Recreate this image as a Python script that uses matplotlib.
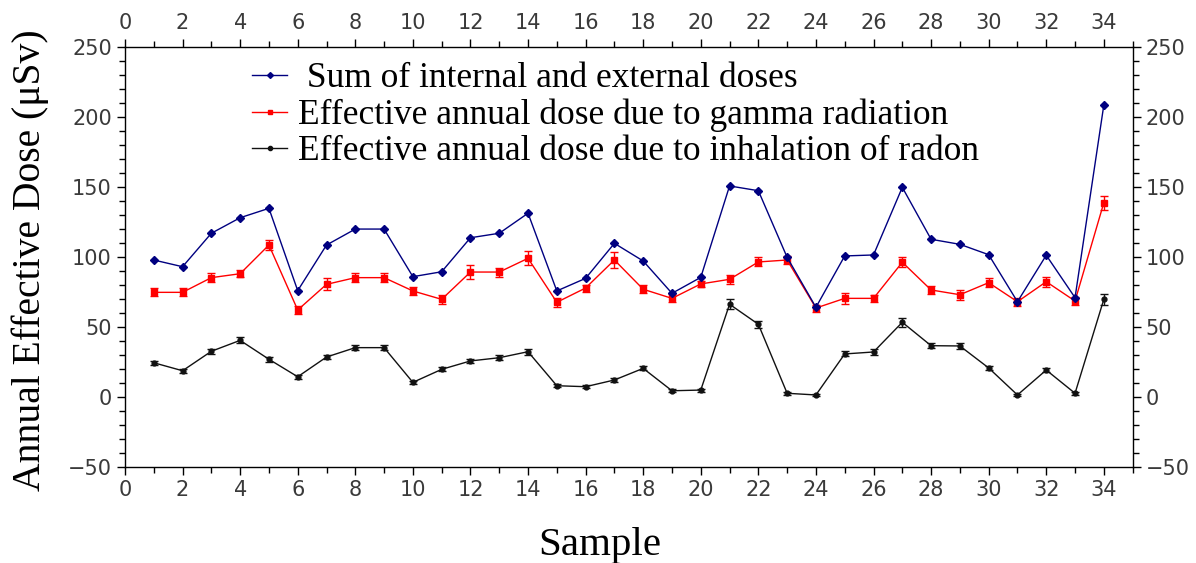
import matplotlib
matplotlib.use("Agg")
import matplotlib.pyplot as plt
from matplotlib.ticker import MultipleLocator
from matplotlib.lines import Line2D

samples = list(range(1, 35))
total_dose = [97.5, 92.7, 116.6, 127.7, 134.4, 75.6, 108.2, 119.6, 119.6, 85.6,
              89.1, 113.4, 116.6, 130.9, 75.4, 84.4, 109.4, 96.8, 73.7, 85.1,
              150.4, 147.0, 99.4, 63.7, 100.4, 101.1, 149.4, 112.3, 108.7, 101.3,
              67.7, 100.9, 70.6, 208.2]
gamma_dose = [74.4, 74.4, 84.9, 87.7, 108.2, 61.8, 80.1, 84.9, 84.9, 75.4,
              69.4, 88.9, 88.9, 98.7, 67.3, 77.5, 97.5, 76.6, 70.1, 80.4,
              83.7, 96.1, 97.5, 63.2, 70.1, 70.1, 95.9, 76.1, 72.7, 81.3,
              67.7, 82.0, 68.2, 138.4]
gamma_err = [2.8, 2.8, 3.4, 2.6, 3.6, 2.9, 4.2, 3.0, 3.0, 2.9,
             3.0, 4.8, 3.2, 4.9, 3.2, 2.5, 6.0, 3.0, 2.8, 2.4,
             3.0, 3.2, 3.2, 2.5, 3.8, 2.5, 3.6, 3.0, 3.6, 3.0,
             3.0, 3.6, 3.0, 4.9]
radon_dose = [24.1, 18.4, 32.3, 40.1, 26.6, 14.1, 28.2, 34.9, 34.9, 10.1,
              19.4, 25.4, 27.7, 32.0, 7.7, 7.0, 11.8, 20.1, 4.1, 4.6,
              65.9, 51.6, 2.3, 1.1, 30.4, 31.8, 53.0, 36.3, 36.1, 20.4,
              1.1, 18.9, 2.3, 69.4]
radon_err = [1.5, 1.5, 1.8, 2.2, 1.6, 1.3, 1.6, 1.8, 1.8, 1.2,
             1.5, 1.5, 1.6, 2.0, 1.2, 1.2, 1.3, 1.5, 1.1, 1.1,
             3.4, 2.4, 1.1, 1.0, 1.8, 1.8, 3.3, 2.0, 2.0, 1.5,
             1.0, 1.5, 1.0, 3.8]

labels = [" Sum of internal and external doses",
          "Effective annual dose due to gamma radiation",
          "Effective annual dose due to inhalation of radon"]

fig = plt.figure(figsize=(11.96, 5.63), dpi=100)
ax = fig.add_axes([0.1045, 0.1714, 0.8425, 0.746])

ax.plot(samples, total_dose, color="#000080", lw=1.0, marker="D", ms=4.5, zorder=3)
ax.errorbar(samples, gamma_dose, yerr=gamma_err, color="#ff0000", lw=1.0,
            marker="s", ms=5, capsize=3, elinewidth=1.0, zorder=2)
ax.errorbar(samples, radon_dose, yerr=radon_err, color="#111111", lw=1.0,
            marker="o", ms=3.5, capsize=3, elinewidth=1.0, zorder=2)

ax.set_xlim(0, 35)
ax.set_ylim(-50, 250)
ax.xaxis.set_major_locator(MultipleLocator(2))
ax.xaxis.set_minor_locator(MultipleLocator(1))
ax.yaxis.set_major_locator(MultipleLocator(50))
ax.yaxis.set_minor_locator(MultipleLocator(10))
ax.tick_params(which="both", direction="out", top=True, right=True,
               labeltop=True, labelright=True, labelsize=15,
               labelcolor="#3a3a3a", width=1.0)
ax.tick_params(which="major", length=6)
ax.tick_params(which="minor", length=4)
for sp in ax.spines.values():
    sp.set_linewidth(1.0)

fig.text(600 / 1196, 8 / 563, "Sample", family="Liberation Serif", fontsize=29.5,
         ha="center", va="baseline")
fig.text(30 / 1196, 0.538, "Annual Effective Dose (\u03bcSv)", family="Liberation Serif",
         fontsize=28.5, rotation=90, ha="center", va="center")

handles = [
    Line2D([], [], color="#000080", lw=1.0, marker="D", ms=3),
    Line2D([], [], color="#ff0000", lw=1.0, marker="s", ms=3.5),
    Line2D([], [], color="#111111", lw=1.0, marker="o", ms=3),
]
ax.legend(handles, labels, loc="upper left", bbox_to_anchor=(0.126, 0.962),
          frameon=False, prop={"family": "Liberation Serif", "size": 25.5},
          handlelength=1.0, handletextpad=0.3, labelspacing=0.09,
          borderpad=0, borderaxespad=0)

fig.savefig("out.png", dpi=100)
